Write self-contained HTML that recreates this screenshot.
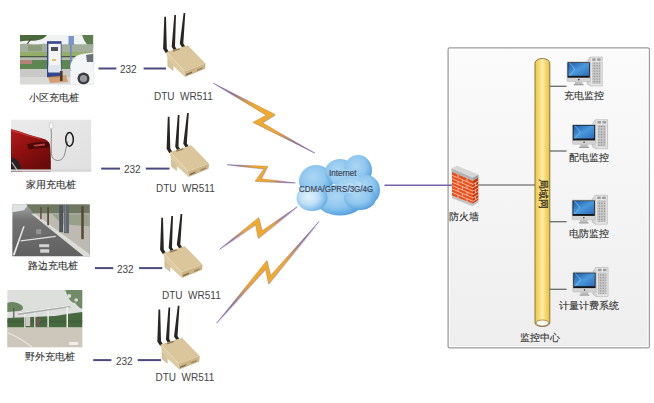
<!DOCTYPE html>
<html><head><meta charset="utf-8">
<style>
html,body{margin:0;padding:0;background:#fff;}
body{width:654px;height:403px;overflow:hidden;position:relative;font-family:"Liberation Sans",sans-serif;}
svg{position:absolute;left:0;top:0;}
.t{position:absolute;white-space:nowrap;color:#333;line-height:1;}
.cn{font-size:10px;color:#2e2e2e;-webkit-text-stroke:0.1px #2e2e2e;}
.num{font-size:10px;color:#444;}
</style></head><body>
<svg width="654" height="403" viewBox="0 0 654 403">
<defs>
  <linearGradient id="panelG" x1="0" y1="0" x2="0" y2="1">
    <stop offset="0" stop-color="#fbfbfb"/><stop offset="1" stop-color="#eeeeee"/>
  </linearGradient>
  <linearGradient id="cyl" x1="0" y1="0" x2="1" y2="0">
    <stop offset="0" stop-color="#f0c84a"/><stop offset="0.2" stop-color="#f6d460"/><stop offset="0.5" stop-color="#fdedb0"/><stop offset="0.8" stop-color="#f4d05a"/><stop offset="1" stop-color="#ecc248"/>
  </linearGradient>

  <linearGradient id="scr" x1="0" y1="0" x2="1" y2="1">
    <stop offset="0" stop-color="#1c5aa8"/><stop offset="0.5" stop-color="#4b98dc"/><stop offset="1" stop-color="#2a6cb8"/>
  </linearGradient>
  <linearGradient id="tow" x1="0" y1="0" x2="1" y2="0">
    <stop offset="0" stop-color="#e4e4e4"/><stop offset="0.5" stop-color="#c4c4c4"/><stop offset="1" stop-color="#d8d8d8"/>
  </linearGradient>
  <pattern id="perf" width="1.6" height="1.6" patternUnits="userSpaceOnUse"><rect width="1.6" height="1.6" fill="#cdcdcd"/><rect width="0.8" height="0.8" fill="#8e8e8e"/></pattern>
  <g id="comp">
    <path d="M20,-0.3 L23,-4.8 L35.3,-4.8 L35.3,24.2 L23,24.2 L20,22 Z" fill="#d6d6d6" stroke="#a8a8a8" stroke-width="0.5"/>
    <rect x="24" y="-4.2" width="10.6" height="27.8" fill="#e6e6e6"/>
    <rect x="25.2" y="-3.4" width="3.5" height="2.4" fill="#9c9c9c"/>
    <rect x="30.2" y="-3.4" width="3.5" height="2.4" fill="#9c9c9c"/>
    <rect x="25.2" y="0.5" width="8.5" height="21.5" fill="url(#perf)"/>
    <!-- monitor -->
    <rect x="0" y="0" width="23.3" height="19.8" rx="0.8" fill="#d4d4d4" stroke="#a8a8a8" stroke-width="0.4"/>
    <rect x="0.5" y="0.5" width="22.3" height="15.4" fill="#141414"/>
    <rect x="1.3" y="1.1" width="20.7" height="12.9" fill="url(#scr)"/>
    <path d="M2.5,1.1 L8,7.5 L2.5,14" stroke="#86c6f2" stroke-width="1.1" fill="none" opacity="0.55"/>
    <circle cx="11.8" cy="17.8" r="0.8" fill="#333"/>
    <rect x="8" y="19.8" width="7.5" height="2.8" fill="#c0c0c0"/>
    <rect x="6.8" y="22.2" width="9.8" height="1.3" fill="#9e9e9e"/>
  </g>
  <g id="router">
    <!-- antennas -->
    <path d="M-2.2,-35.2 L-0.5,-35.2 L0.3,-3.5 L2.6,0.3 L-0.6,1.2 L-3.4,-3.2 Z" fill="#2a2520"/>
    <path d="M7.8,-37.1 L9.5,-37.1 L8.5,-5.5 L10.6,-2.2 L7.4,-1.4 L5.2,-5.2 Z" fill="#2a2520"/>
    <path d="M17.1,-38.9 L18.8,-38.9 L16.8,-8.5 L19,-5.2 L15.8,-4.3 L13.3,-8.2 Z" fill="#2a2520"/>
    <!-- left front face -->
    <path d="M0,0 L18.1,19.25 L18.6,25 L1.2,9 Z" fill="#dccaa0"/>
    <!-- right front face -->
    <path d="M18.1,19.25 L39,11.4 L38.6,16.8 L18.6,25 Z" fill="#cbb486"/>
    <!-- top face -->
    <path d="M0,0 L21.25,-6.8 L39,11.4 L18.1,19.25 Z" fill="#dbc69b"/>
    <path d="M0.5,0.3 L17.8,18.8" stroke="#eadcb8" stroke-width="0.8" fill="none"/>
    <!-- logo -->
    <path d="M6,-1.5 L13,-3.8 L13.5,-2.5 L6.5,-0.2 Z" fill="#5a4a3a" opacity="0.6"/>
    <!-- bracket -->
    <path d="M1.2,8.5 L6.5,13.8 L6.6,18.6 L1.4,14.5 Z" fill="#d8c49a" stroke="#b9a27a" stroke-width="0.4"/>
    <!-- ports -->
    <path d="M19.5,22 L25.5,19.6 L25.5,21 L19.5,23.4 Z" fill="#7a6a50"/>
    <path d="M30.5,17.5 L36,15.3 L36,16.7 L30.5,18.9 Z" fill="#9a8660"/>
  </g>
</defs>


<!-- photo 1 -->
<svg x="20" y="35" width="73.4" height="49.4" viewBox="0 0 73.4 49.4" preserveAspectRatio="none">
  <rect width="73.4" height="49.4" fill="#d9dedc"/>
  <rect y="0" width="73.4" height="11" fill="#f0f2f2"/>
  <path d="M0,0 H27 C25,3 21,5 16,5.5 C10,6 5,5 0,6.5 Z" fill="#4a6a3e"/>
  <path d="M2,16 L11,4" stroke="#3e4a34" stroke-width="1.2" fill="none"/>
  <path d="M62,0 H73.4 V13 C69,12 66,9 64,5 Z" fill="#5f7e50"/>
  <path d="M0,9 C8,8 14,10 20,9 C28,8 40,10 73.4,9 V17 H0 Z" fill="#a3ae9c"/>
  <rect x="8" y="10" width="14" height="6" fill="#80966e" opacity="0.7"/>
  <rect y="17" width="73.4" height="4.5" fill="#94ae68"/>
  <rect y="21" width="73.4" height="1.6" fill="#4a5a3a"/>
  <rect y="22.6" width="73.4" height="2.4" fill="#b5bab0"/>
  <rect y="25" width="73.4" height="9" fill="#5e8650"/>
  <rect x="0" y="25" width="12" height="4" fill="#c88080" opacity="0.8"/>
  <rect y="34" width="73.4" height="15.4" fill="#c9c9c7"/>
  <rect y="42" width="73.4" height="7.4" fill="#d9d9d7"/>
  <!-- charger -->
  <rect x="27" y="6.2" width="14.5" height="36" fill="#34468c"/>
  <rect x="28.4" y="8.8" width="12.4" height="28.5" fill="#f2f4f6"/>
  <rect x="28.4" y="30" width="12.4" height="7.3" fill="#dfe4ee"/>
  <rect x="31" y="12" width="7" height="4" fill="#4a4f58"/>
  <rect x="32" y="24" width="4" height="2" fill="#e8b040" opacity="0.8"/>
  <path d="M28,42 L46,40 L48,47 L30,48 Z" fill="#d08a50" opacity="0.75"/>
  <rect x="40" y="36" width="2.6" height="10" fill="#4a3a2e"/>
  <!-- sign -->
  <rect x="48.5" y="1" width="5.5" height="9" fill="#7896c8"/>
  <rect x="50" y="10" width="1.6" height="26" fill="#6a88c0"/>
  <!-- car -->
  <path d="M50.4,49.4 L50.4,30 C52,24 56,20 62,19 L73.4,17.5 V49.4 Z" fill="#f4f5f6"/>
  <path d="M66,20 L73.4,18.8 V27 L67,27 Z" fill="#6a6e76"/>
  <ellipse cx="63.5" cy="43.5" rx="6" ry="6" fill="#3a3c40"/>
  <ellipse cx="63.5" cy="43.5" rx="3.6" ry="3.6" fill="#9a9ca0"/>
</svg>
<!-- photo 2 -->
<svg x="10.9" y="119.4" width="80.5" height="52.3" viewBox="0 0 80.5 52.3" preserveAspectRatio="none">
  <defs><linearGradient id="wall" x1="0" y1="0" x2="1" y2="1"><stop offset="0" stop-color="#ebebeb"/><stop offset="1" stop-color="#e0e0e0"/></linearGradient>
  <linearGradient id="carR" x1="0" y1="0" x2="0.6" y2="1"><stop offset="0" stop-color="#b41c1c"/><stop offset="0.5" stop-color="#8e1010"/><stop offset="1" stop-color="#6a0a0a"/></linearGradient></defs>
  <rect width="80.5" height="52.3" fill="url(#wall)"/>
  <path d="M0,9.5 C10,12 20,16 28,18 C34,19.5 38,21 39,25 C40,32 40,42 40,52.3 H0 Z" fill="url(#carR)"/>
  <path d="M0,11 C10,13.5 20,17 30,19.5" stroke="#d85050" stroke-width="1.2" fill="none" opacity="0.6"/>
  <path d="M16,25 C22,23 30,22 38,23 L38.5,28 C30,28 24,29 18,30 Z" fill="#3a0808" opacity="0.8"/>
  <path d="M22,25.5 L34,24 L34,26 L24,27 Z" fill="#e05050" opacity="0.8"/>
  <path d="M0,38 C6,38 10,44 11,52.3 H0 Z" fill="#2a2222"/>
  <path d="M1,43 L7,52" stroke="#b0b0b0" stroke-width="1.2"/>
  <rect x="38.5" y="3" width="3.6" height="6.5" rx="1.8" fill="#f8f8f8" stroke="#aaa" stroke-width="0.4"/>
  <path d="M40.2,9.5 C41,18 39.5,30 41,37 C43,42 50,43 53,37 C55,32 55,27 57,22" stroke="#808080" stroke-width="0.9" fill="none"/>
  <ellipse cx="58.6" cy="20" rx="3.8" ry="6.8" fill="none" stroke="#1e1e1e" stroke-width="1.5"/>
  <rect x="0" y="50" width="80.5" height="2.3" fill="#d6d6d6"/>
</svg>
<!-- photo 3 -->
<svg x="12.2" y="204.2" width="77.6" height="52.3" viewBox="0 0 77.6 52.3" preserveAspectRatio="none">
  <defs><linearGradient id="road" x1="0" y1="0" x2="0" y2="1"><stop offset="0" stop-color="#a4a4a4"/><stop offset="0.3" stop-color="#737373"/><stop offset="1" stop-color="#606060"/></linearGradient></defs>
  <rect width="77.6" height="52.3" fill="url(#road)"/>
  <path d="M0,0 H16 L12,6 L0,8 Z" fill="#dfe2e2"/>
  <path d="M14,0 H77.6 V10 H22 Z" fill="#6e775f"/>
  <path d="M21,9 L77.6,9 V52.3 H74 Z" fill="#bdbab2"/>
  <path d="M40,10 L77.6,10 V22 L50,20 Z" fill="#8f9a82" opacity="0.8"/>
  <path d="M19,9.5 L22.5,9.5 L77.6,50 L77.6,52.3 L72,52.3 Z" fill="#dcdcd8"/>
  <rect x="47" y="1" width="3.8" height="27" fill="#4e545c"/>
  <rect x="51.8" y="1" width="5" height="28" fill="#5e666e"/>
  <rect x="52.5" y="1" width="1.2" height="27" fill="#8a929a" opacity="0.6"/>
  <rect x="69" y="2" width="2.6" height="33" fill="#5a4a3a"/>
  <rect x="35" y="3" width="1.8" height="18" fill="#5a4a3a"/>
  <rect x="28" y="3" width="1.4" height="12" fill="#5a4a3a"/>
  <path d="M0.5,51 L11,22 L12.5,22 L2.5,51 Z" fill="#e6e6e6"/>
  <path d="M8.5,36 L43.5,31.5 L43.5,32.8 L8.5,37.3 Z" fill="#e0e0e0"/>
  <rect x="27" y="40" width="10" height="3" fill="#d4d4d4"/>
  <rect x="28" y="45" width="9" height="3.5" fill="#d4d4d4"/>
  <rect x="24" y="25" width="5" height="5" fill="#b0b0b0" opacity="0.6"/>
</svg>
<!-- photo 4 -->
<svg x="7.2" y="290" width="75.3" height="57.4" viewBox="0 0 75.3 57.4" preserveAspectRatio="none">
  <rect width="75.3" height="57.4" fill="#dcdfdc"/>
  <path d="M58,0 H75.3 V19 C72,18 70,16 68,13 C64,13 61,8 60,5 Z" fill="#5e7c52" opacity="0.85"/><circle cx="62" cy="6" r="2" fill="#dcdfdc"/><circle cx="69" cy="10" r="1.8" fill="#dcdfdc"/>
  <path d="M0,13 C4,11 10,12 14,15 C17,17 16,21 12,21 L0,22 Z" fill="#6a8660"/>
  <rect x="6" y="18" width="1.2" height="10" fill="#5a5a50"/>
  <path d="M0,28 L48,26 L60,24 L75.3,22 V37.5 H0 Z" fill="#46693e"/>
  <path d="M0,30 H75.3 V33 H0 Z" fill="#3c5c36" opacity="0.5"/>
  <path d="M9.9,22.5 L62.4,15 L63.5,17.2 L11,25 Z" fill="#a8acaa"/>
  <path d="M9.9,22.5 L62.4,15 L62.8,16 L10.3,23.5 Z" fill="#f2f2f2"/>
  <rect x="17" y="24" width="1.3" height="14" fill="#eaeaea"/>
  <rect x="27" y="22.5" width="1.3" height="15" fill="#eaeaea"/>
  <rect x="40.2" y="20.5" width="1.4" height="17" fill="#f0f0f0"/>
  <rect x="59.3" y="17" width="1.5" height="21" fill="#f0f0f0"/>
  <rect x="18.5" y="27" width="4.5" height="9" fill="#cfc8c4"/>
  <rect x="28.5" y="27.5" width="4.5" height="9" fill="#6a5a50"/>
  <rect y="37.5" width="75.3" height="19.9" fill="#cdc6ba"/>
  <path d="M0,42.5 C8,46 18,51 25,57.4" stroke="#ece8e2" stroke-width="1.2" fill="none"/>
  <rect x="62" y="52" width="9" height="3" fill="#f4f4f4" opacity="0.85"/>
</svg>

<!-- panel -->
<rect x="448.1" y="47.9" width="201.3" height="300" rx="1.5" fill="url(#panelG)" stroke="#9e9e9e" stroke-width="1.3"/>
<rect x="449.6" y="49.4" width="198.3" height="297" fill="none" stroke="#ffffff" stroke-width="0.9" opacity="0.9"/>

<!-- connection lines left -->
<g stroke="#4a4a80" stroke-width="2">
  <line x1="98.5" y1="68.5" x2="116.3" y2="68.5"/><line x1="143.6" y1="68.5" x2="166" y2="68.5"/>
  <line x1="101.2" y1="168.6" x2="120.1" y2="168.6"/><line x1="145.8" y1="168.6" x2="169.5" y2="168.6"/>
  <line x1="94.9" y1="268.1" x2="113.2" y2="268.1"/><line x1="139.1" y1="268.1" x2="162.3" y2="268.1"/>
  <line x1="93.2" y1="360.1" x2="111.4" y2="360.1"/><line x1="137.7" y1="360.1" x2="161" y2="360.1"/>
</g>

<!-- routers -->
<use href="#router" transform="translate(166.5,52)"/>
<use href="#router" transform="translate(170,152)"/>
<use href="#router" transform="translate(163.5,253)"/>
<use href="#router" transform="translate(160.7,344.6)"/>

<!-- lightning -->
<defs>
<linearGradient id="bg0" gradientUnits="userSpaceOnUse" x1="213.4" y1="83.2" x2="315" y2="153.2"><stop offset="0" stop-color="#6858b0"/><stop offset="0.18" stop-color="#9070a0"/><stop offset="0.34" stop-color="#eaa434"/><stop offset="0.42" stop-color="#f2aa2c"/><stop offset="0.58" stop-color="#f2aa2c"/><stop offset="0.66" stop-color="#eaa434"/><stop offset="0.82" stop-color="#9070a0"/><stop offset="1" stop-color="#6858b0"/></linearGradient>
<linearGradient id="bs0" gradientUnits="userSpaceOnUse" x1="213.4" y1="83.2" x2="315" y2="153.2"><stop offset="0" stop-color="#6858b0"/><stop offset="0.3" stop-color="#b08048"/><stop offset="0.7" stop-color="#b08048"/><stop offset="1" stop-color="#6858b0"/></linearGradient>
<linearGradient id="bg1" gradientUnits="userSpaceOnUse" x1="227.1" y1="164.7" x2="295.5" y2="182.9"><stop offset="0" stop-color="#6858b0"/><stop offset="0.18" stop-color="#9070a0"/><stop offset="0.34" stop-color="#eaa434"/><stop offset="0.42" stop-color="#f2aa2c"/><stop offset="0.58" stop-color="#f2aa2c"/><stop offset="0.66" stop-color="#eaa434"/><stop offset="0.82" stop-color="#9070a0"/><stop offset="1" stop-color="#6858b0"/></linearGradient>
<linearGradient id="bs1" gradientUnits="userSpaceOnUse" x1="227.1" y1="164.7" x2="295.5" y2="182.9"><stop offset="0" stop-color="#6858b0"/><stop offset="0.3" stop-color="#b08048"/><stop offset="0.7" stop-color="#b08048"/><stop offset="1" stop-color="#6858b0"/></linearGradient>
<linearGradient id="bg2" gradientUnits="userSpaceOnUse" x1="219.5" y1="249.3" x2="297.4" y2="206.6"><stop offset="0" stop-color="#6858b0"/><stop offset="0.18" stop-color="#9070a0"/><stop offset="0.34" stop-color="#eaa434"/><stop offset="0.42" stop-color="#f2aa2c"/><stop offset="0.58" stop-color="#f2aa2c"/><stop offset="0.66" stop-color="#eaa434"/><stop offset="0.82" stop-color="#9070a0"/><stop offset="1" stop-color="#6858b0"/></linearGradient>
<linearGradient id="bs2" gradientUnits="userSpaceOnUse" x1="219.5" y1="249.3" x2="297.4" y2="206.6"><stop offset="0" stop-color="#6858b0"/><stop offset="0.3" stop-color="#b08048"/><stop offset="0.7" stop-color="#b08048"/><stop offset="1" stop-color="#6858b0"/></linearGradient>
<linearGradient id="bg3" gradientUnits="userSpaceOnUse" x1="216.7" y1="323" x2="319" y2="221.5"><stop offset="0" stop-color="#6858b0"/><stop offset="0.18" stop-color="#9070a0"/><stop offset="0.34" stop-color="#eaa434"/><stop offset="0.42" stop-color="#f2aa2c"/><stop offset="0.58" stop-color="#f2aa2c"/><stop offset="0.66" stop-color="#eaa434"/><stop offset="0.82" stop-color="#9070a0"/><stop offset="1" stop-color="#6858b0"/></linearGradient>
<linearGradient id="bs3" gradientUnits="userSpaceOnUse" x1="216.7" y1="323" x2="319" y2="221.5"><stop offset="0" stop-color="#6858b0"/><stop offset="0.3" stop-color="#b08048"/><stop offset="0.7" stop-color="#b08048"/><stop offset="1" stop-color="#6858b0"/></linearGradient>
</defs>
<polygon points="213.4,83.2 275.2,114.6 262.3,122.8 315,153.2 252.9,122.3 266.3,115.2" transform="translate(0.7,0.8)" fill="#a090c0" opacity="0.5"/>
<polygon points="213.4,83.2 275.2,114.6 262.3,122.8 315,153.2 252.9,122.3 266.3,115.2" fill="url(#bg0)" stroke="url(#bs0)" stroke-width="0.45" stroke-linejoin="miter"/>
<polygon points="227.1,164.7 267.7,166.3 261.1,178.7 295.5,182.9 255,181.2 264,168.8" transform="translate(0.7,0.8)" fill="#a090c0" opacity="0.5"/>
<polygon points="227.1,164.7 267.7,166.3 261.1,178.7 295.5,182.9 255,181.2 264,168.8" fill="url(#bg1)" stroke="url(#bs1)" stroke-width="0.45" stroke-linejoin="miter"/>
<polygon points="219.5,249.3 258.7,217.5 262,230.8 297.4,206.6 258.1,238.3 255.5,224.5" transform="translate(0.7,0.8)" fill="#a090c0" opacity="0.5"/>
<polygon points="219.5,249.3 258.7,217.5 262,230.8 297.4,206.6 258.1,238.3 255.5,224.5" fill="url(#bg2)" stroke="url(#bs2)" stroke-width="0.45" stroke-linejoin="miter"/>
<polygon points="216.7,323 266.9,260.5 270.5,275.5 319,221.5 268.5,284 265.5,269" transform="translate(0.7,0.8)" fill="#a090c0" opacity="0.5"/>
<polygon points="216.7,323 266.9,260.5 270.5,275.5 319,221.5 268.5,284 265.5,269" fill="url(#bg3)" stroke="url(#bs3)" stroke-width="0.45" stroke-linejoin="miter"/>

<!-- cloud to firewall line -->
<line x1="384.5" y1="185.3" x2="452" y2="185.3" stroke="#7660a8" stroke-width="1.6"/>
<line x1="478" y1="185" x2="535" y2="185" stroke="#858585" stroke-width="1.3"/>

<!-- cloud -->
<defs>
  <radialGradient id="lobe" cx="0.42" cy="0.38" r="0.62">
    <stop offset="0" stop-color="#acd6f4"/><stop offset="0.6" stop-color="#8ec6ee"/><stop offset="0.9" stop-color="#66ace4"/><stop offset="1" stop-color="#56a0de"/>
  </radialGradient>
  <radialGradient id="lobeW" cx="0.4" cy="0.45" r="0.6">
    <stop offset="0" stop-color="#e2f1fc"/><stop offset="0.5" stop-color="#c0e0f7"/><stop offset="0.85" stop-color="#86c0ec"/><stop offset="1" stop-color="#66ace4"/>
  </radialGradient>
</defs>
<g>
  <ellipse cx="316" cy="181" rx="17" ry="16" fill="url(#lobe)"/>
  <ellipse cx="340" cy="172" rx="15" ry="13" fill="url(#lobe)"/>
  <ellipse cx="358" cy="170" rx="14" ry="15" fill="url(#lobe)"/>
  <ellipse cx="366" cy="190" rx="14" ry="15" fill="url(#lobe)"/>
  <ellipse cx="340" cy="200" rx="24" ry="15.5" fill="url(#lobe)"/>
  <ellipse cx="360" cy="198" rx="16" ry="12" fill="url(#lobe)"/>
  <ellipse cx="312" cy="198" rx="15.5" ry="13" fill="url(#lobeW)"/>
  <ellipse cx="350" cy="186" rx="12" ry="7" fill="#c4e4f8" opacity="0.6"/>
  <ellipse cx="345" cy="178" rx="14" ry="9" fill="#a6d4f2" opacity="0.7"/>
</g>

<!-- firewall -->
<g>
  <!-- base -->
  <path d="M452,195 L472.5,203 L478.5,199.5 L478.5,202.5 L472.5,206.2 L452,198.2 Z" fill="#c4c4c4"/>
  <!-- brick front -->
  <path d="M452,171.5 L473,180.5 L473,203.5 L452,195.5 Z" fill="#e8501e"/>
  <!-- brick side -->
  <path d="M473,180.5 L478.3,177.3 L478.3,199.8 L473,203.5 Z" fill="#c8360e"/>
  <g stroke="#f8d0bc" stroke-width="0.8" fill="none"><path d="M452,175.3 L473,184.3 L478.3,181.1"/><path d="M452,178.7 L473,187.7 L478.3,184.5"/><path d="M452,182.1 L473,191.1 L478.3,187.9"/><path d="M452,185.5 L473,194.5 L478.3,191.3"/><path d="M452,188.9 L473,197.9 L478.3,194.7"/><path d="M452,192.3 L473,201.3 L478.3,198.1"/><path d="M458,174.4 V177.3"/><path d="M467,178.2 V181.1"/><path d="M462.5,180.1 V183.0"/><path d="M475.6,183.0 V185.9"/><path d="M458,181.6 V184.5"/><path d="M467,185.4 V188.3"/><path d="M462.5,186.9 V189.8"/><path d="M475.6,189.8 V192.7"/><path d="M458,188.4 V191.3"/><path d="M467,192.2 V195.1"/><path d="M462.5,193.7 V196.6"/><path d="M475.6,196.6 V199.5"/><path d="M458,195.2 V198.1"/><path d="M467,199.0 V201.9"/></g>
  <!-- cap -->
  <path d="M451.5,168.3 L473,177.5 L473,181 L451.5,171.8 Z" fill="#b4b4b4"/>
  <path d="M473,177.5 L478.5,174.5 L478.5,177.6 L473,181 Z" fill="#a0a0a0"/>
  <path d="M451.5,168.3 L457,165.8 L478.5,174.5 L473,177.5 Z" fill="#d6d6d6"/>
</g>

<!-- cylinder -->
<path d="M535,63.2 A7.4,4.7 0 0 1 549.8,63.2 L549.8,323 A7.4,3.5 0 0 1 535,323 Z" fill="url(#cyl)" stroke="#7d6d38" stroke-width="0.9"/>
<ellipse cx="542.4" cy="323" rx="6.4" ry="3" fill="#fffdf5" stroke="#7d6d38" stroke-width="0.7"/>

<text x="0" y="0" transform="translate(547,179.3) rotate(90)" font-size="9.6" stroke="#3e3820" stroke-width="0.3" font-family="Liberation Sans, sans-serif" fill="#3e3820" dominant-baseline="hanging">局域网</text>
<!-- computer lines -->
<g stroke="#6a6a6a" stroke-width="1.3">
  <line x1="549.8" y1="86.3" x2="566.6" y2="86.3"/>
  <line x1="549.8" y1="151" x2="566.6" y2="151"/>
  <line x1="549.8" y1="221.7" x2="566.6" y2="221.7"/>
  <line x1="549.8" y1="289.3" x2="566.6" y2="289.3"/>
</g>

<use href="#comp" transform="translate(567,61.8)"/>
<use href="#comp" transform="translate(572.3,124.5)"/>
<use href="#comp" transform="translate(572,200)"/>
<use href="#comp" transform="translate(572.8,272.2)"/>
</svg>

<div class="t cn" style="left:29px;top:93px;">小区充电桩</div>
<div class="t cn" style="left:26px;top:179.5px;">家用充电桩</div>
<div class="t cn" style="left:28px;top:261px;">路边充电桩</div>
<div class="t cn" style="left:25px;top:352px;">野外充电桩</div>

<div class="t num" style="left:120px;top:65px;">232</div>
<div class="t num" style="left:124px;top:165px;">232</div>
<div class="t num" style="left:117px;top:265px;">232</div>
<div class="t num" style="left:116px;top:357px;">232</div>

<div class="t num" style="left:154px;top:91.5px;">DTU&nbsp;&nbsp;WR511</div>
<div class="t num" style="left:156px;top:184px;">DTU&nbsp;&nbsp;WR511</div>
<div class="t num" style="left:162px;top:290.5px;">DTU&nbsp;&nbsp;WR511</div>
<div class="t num" style="left:155.5px;top:373px;">DTU&nbsp;&nbsp;WR511</div>

<div class="t" style="left:328.6px;top:168.6px;font-size:8.8px;color:#364252;-webkit-text-stroke:0.15px #364252;transform:scaleX(0.92);transform-origin:0 0;">Internet</div>
<div class="t" style="left:298.5px;top:184.8px;font-size:9.3px;color:#364252;-webkit-text-stroke:0.15px #364252;transform:scaleX(0.86);transform-origin:0 0;">CDMA/GPRS/3G/4G</div>

<div class="t cn" style="left:449px;top:212px;">防火墙</div>
<div class="t cn" style="left:564px;top:91px;">充电监控</div>
<div class="t cn" style="left:569px;top:153px;">配电监控</div>
<div class="t cn" style="left:569px;top:229px;">电防监控</div>
<div class="t cn" style="left:559px;top:301px;">计量计费系统</div>
<div class="t cn" style="left:520px;top:333px;">监控中心</div>
</body></html>
